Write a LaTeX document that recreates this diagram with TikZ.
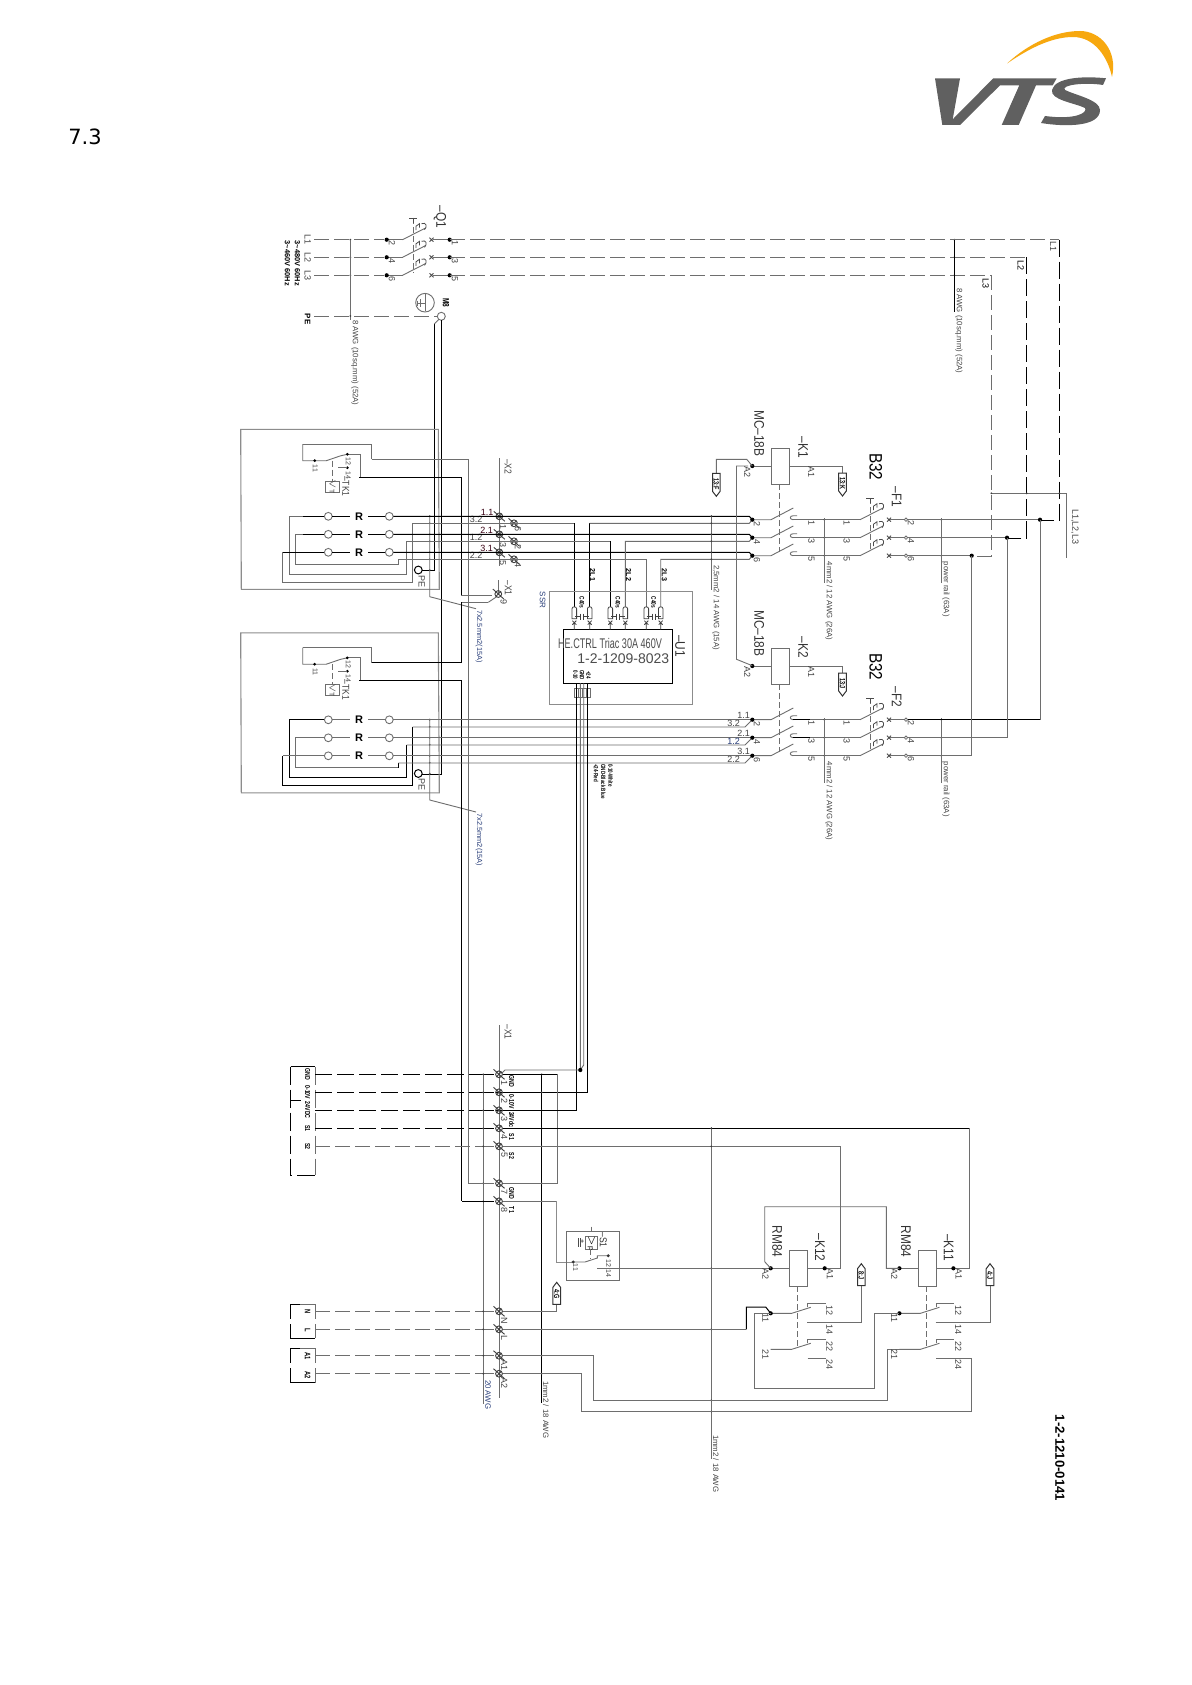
\documentclass[tikz,border=0pt]{standalone}
\usepackage{fontspec}
\usepackage{graphicx}
\setmainfont{Liberation Sans}
\newfontfamily\titlefont{DejaVu Sans}
\definecolor{wg}{HTML}{6E6E6E}
\definecolor{lg}{HTML}{8C8C8C}
\definecolor{tg}{HTML}{444444}
\definecolor{tb}{HTML}{2A3F7A}
\definecolor{logog}{HTML}{606060}
\definecolor{logoo}{HTML}{F7A80F}
\newcommand\fz[1]{\fontsize{#1}{#1}\selectfont}
\newcommand\iso[1]{\scalebox{.85}[1]{#1}}
\newcommand\nar[1]{\scalebox{.72}[1]{#1}}
\tikzset{
  wgl/.style={line width=.45pt,color=wg},
  wbl/.style={line width=.5pt,color=black},
  lgl/.style={line width=.55pt,color=lg},
  dashg/.style={wgl,dash pattern=on 7.5pt off 2.5pt},
  dashb/.style={wbl,dash pattern=on 8.5pt off 2.5pt},
  mech/.style={line width=.4pt,color=wg,dash pattern=on 3pt off 1.5pt},
  rtxt/.style={rotate=-90,inner sep=0,outer sep=0,font=\fz{4.5},text=tg},
  note/.style={rtxt,anchor=west,font=\fz{3.9}},
  bd/.style={rtxt,font=\fz{4}\bfseries,text=black},
  big/.style={rtxt,font=\fz{7},text=black!80},
  termp/.pic={\draw[line width=.45pt,color=black!75] (0,0) circle (3.4) (-5.5,-5)--(5.5,5) (-2.4,2.4)--(2.4,-2.4);},
  smalldot/.pic={\fill[color=black!75] (0,0) circle (1);},
  dotp/.pic={\fill[black] (0,0) circle (2.1);},
  brk/.pic={
    \draw[wgl] (0,0)--(23,-11.7);
    \draw[line width=.4pt,color=black!70] (13.5,-9.5)--(13.5,-13.5)--(17,-16)--(17,-12) (19,-16) .. controls (24,-18) and (25,-13) .. (22,-10);
    \draw[line width=.4pt,color=black!70] (27,-2)--(31,2) (27,2)--(31,-2);
  },
  brktop/.pic={\draw[line width=.4pt,color=black!70] (-4,0)--(4,0) (0,0)--(0,5);},
  kc/.pic={
    \draw[wgl] (0,0)--(18.7,0)--(41,-11.7);
    \draw[wgl] (44.7,-4)--(41,-4) .. controls (37,-4) and (37,0) .. (41,0);
  },
  relc/.pic={
    \draw[wgl] (0,0)--(21,0)--(40,-6);
    \draw[wgl] (37,-6)--(37,-9.5)--(55,-9.5);
    \draw[wgl] (37,9)--(55,9);
  },
  fuse/.pic={
    \draw[line width=.4pt,color=black!75] (-2.3,12)--(-2.3,2) .. controls (-2.3,-.5) and (2.3,-.5) .. (2.3,2)--(2.3,12)--cycle;
    \draw[line width=.4pt,color=black!75] (-2,14)--(2,18) (-2,18)--(2,14) (0,16)--(0,23);
  },
  capp/.pic={\draw[line width=.4pt,color=black!75] (-7,0)--(-1.2,0) (-1.2,-3)--(-1.2,3) (1.2,-3)--(1.2,3) (1.2,0)--(7,0);},
  tagd/.pic={\draw[line width=.5pt,color=black!80,fill=white] (-3.8,0)--(3.8,0)--(3.8,18)--(0,23)--(-3.8,18)--cycle; \node[bd,font=\fz{3.8}\bfseries] at (0,10.5) {\nar{#1}};},
  tagu/.pic={\draw[line width=.5pt,color=black!80,fill=white] (-3.8,0)--(3.8,0)--(3.8,-17)--(0,-22)--(-3.8,-17)--cycle; \node[bd,font=\fz{3.8}\bfseries] at (0,-10) {\nar{#1}};},
  heater/.pic={
    % outer box
    \draw[lgl] (-199.6,-87)--(-2,-87)--(-1,73)--(-199,73)--cycle;
    % thermal contact
    \draw[wgl] (-137.6,-72.3)--(-68.6,-72.3)--(-68.6,-57.3);
    \draw[wgl] (-137.6,-72.3)--(-137.6,-55.6)--(-125.6,-55.6)--(-114,-55.6)--(-100,-60.4)--(-93,-62);
    \draw[wgl] (-93,-62)--(-80,-62)--(-80,-39);
    \fill[black] (-125.6,-55.6) circle (1.5) (-93,-62) circle (1.5) (-93,-48.6) circle (1.5);
    \draw[wgl] (-93,-48.6)--(-102,-48.6);
    \draw[mech] (-108,-55.6)--(-108,-35.3);
    \draw[wgl] (-115,-35.3) rectangle (-101,-24);
    \node[rtxt,font=\fz{3.4}] at (-108,-29.7) {$\vee$T};
    \node[rtxt,font=\fz{3.5}] at (-125,-48) {11};
    \node[rtxt,font=\fz{3.5}] at (-92,-55) {12};
    \node[rtxt,font=\fz{3.5}] at (-92,-41) {14};
    \node[rtxt,font=\fz{5}] at (-94.5,-30) {\iso{--TK1}};
    % pe
    \draw[black,line width=.5pt] (-22,53.7) circle (3.9);
    \node[rtxt,font=\fz{4.5}] at (-18.5,65) {PE};
    % R row
    \foreach \yy in {0,18,36}{
      \draw[wgl] (-112,\yy) circle (3.9) (-51,\yy) circle (3.9);
      \node[bd,font=\fz{5.5}\bfseries] at (-81.3,\yy) {\rotatebox{90}{R}};
      \draw[wgl] (-108,\yy)--(-90,\yy) (-72,\yy)--(-55,\yy);
    }
    % bus ticks
    \foreach \yy in {0,7,18,25,36,43,53.7}{\fill[black!80] (-10.6,\yy) circle (.9);}
  },
}
\begin{document}
\begin{tikzpicture}[x=0.5pt,y=-0.5pt]
\useasboundingbox (0,0) rectangle (1192,1685);
\fill[white] (0,0) rectangle (1192,1685);
% title
\node[inner sep=0,font=\titlefont\fz{10.5},text=black] (title) at (85,137) {7.3};
% logo
\fill[logoo] (1007,63.5) .. controls (1028,44) and (1055,31) .. (1080,31) .. controls (1100,31) and (1118,50) .. (1112,77) .. controls (1108,58) and (1095,37) .. (1073,37) .. controls (1050,37) and (1027,50) .. (1007,63.5) -- cycle;
\fill[logog] (935,78.3)--(960,78.3)--(952.7,119.3)--(993.3,78.3)--(1056.7,78.3)--(1052.7,85.3)--(1036,85.3)--(1018.7,125)--(1001.7,125)--(1019.3,85.3)--(1000,85.3)--(960,125)--(942.3,125)--cycle;
\fill[logog] (1106,78.3) .. controls (1085,76) and (1055,77) .. (1052,90) .. controls (1050,100) and (1075,103) .. (1085,108) .. controls (1088,113) and (1075,120) .. (1045,116)
   -- (1041,123) .. controls (1065,127) and (1100,127) .. (1100,110) .. controls (1100,100) and (1075,95) .. (1065,90) .. controls (1060,85) and (1085,82) .. (1103,85) -- cycle;
% ---- Q1
\foreach \yy/\lb/\la in {239.7/2/1,257.3/4/3,275.3/6/5}{
  \draw[dashg] (314,\yy)--(384,\yy);
  \draw[wgl] (386.7,\yy)--(402.5,\yy);
  \pic at (402.5,\yy) {brk};
  \draw[dashg] (433,\yy)--(450,\yy);
  \pic at (386.7,\yy) {dotp};
  \pic at (449.7,\yy) {dotp};
  \node[rtxt] at (392,\yy+3.5) {\lb};
  \node[rtxt] at (455,\yy+3.5) {\la};
  \pic at (350.3,\yy) {smalldot};
  \pic at (954.3,\yy) {smalldot};
}
\draw[mech] (413,218)--(413,273);
\pic at (413,218) {brktop};
\node[big] at (440,217) {\iso{--Q1}};
\node[rtxt] at (307.7,240) {L1};
\node[rtxt] at (307.7,257.3) {L2};
\node[rtxt] at (307.7,276) {L3};
\node[bd] at (307.7,319) {PE};
\node[bd,font=\fz{3.7}\bfseries] at (297.3,263.3) {3\textasciitilde 480V 60Hz};
\node[bd,font=\fz{3.7}\bfseries] at (287.3,263.3) {3\textasciitilde 460V 60Hz};
\draw[wgl] (350.3,239.7)--(350.3,320);
\node[note] at (355,320) {8 AWG (10sq.mm) (52A)};
\draw[dashg] (314,316)--(437,316);
\pic at (350.3,316) {smalldot};
% earth
\draw[wgl] (425,302.7) circle (9.3);
\draw[wgl] (425,294)--(425,303) (425,303)--(425,311) (425,303)--(417.5,303);
\draw[wgl] (420,299)--(420,307) (417.5,300.5)--(417.5,305.5);
\node[bd,font=\fz{4.5}\bfseries] at (446,302.7) {\nar{M8}};
\draw[wgl] (441.3,316.3) circle (4);
% Long main dashes
\draw[dashg] (450,239.7)--(1059.3,239.7);
\draw[dashg] (450,257.3)--(1026.7,257.3);
\draw[dashg] (450,275.3)--(991.3,275.3);
\draw[dashb] (1059.3,239.7)--(1059.3,520)--(1040,520);
\draw[dashb] (1026.7,257.3)--(1026.7,538)--(1007,538);
\draw[dashg] (991.3,275.3)--(991.3,556)--(971.7,556);
\node[rtxt] at (1053.3,246.7) {L1};
\node[rtxt,text=black] at (1020.7,265.7) {L2};
\node[rtxt,text=black] at (985.7,283.3) {L3};
\draw[wbl] (954.3,239.7)--(954.3,312);
\node[note] at (959,288) {8 AWG (10sq.mm) (52A)};
\draw[wgl] (991.3,493.3)--(1066.3,493.3)--(1066.3,558.3);
\foreach \xx in {991.3,1026.7,1059.3}{\pic at (\xx,493.3) {smalldot};}
\node[rtxt,font=\fz{4.5}] at (1075,526.7) {L1,L2,L3};
% ---- PE wires
\draw[wbl] (441.3,320)--(441.3,774)--(422,774);
\draw[wbl] (434.3,324)--(434.3,570)--(422,570);
\draw[wgl] (434.3,324)--(439,319.3);
% ---- heater blocks
\pic at (440.3,516.3) {heater};
\pic at (440.3,719.8) {heater};
% Block 1 connection loops
\draw[wgl] (303,516.3)--(289.3,516.3)--(289.3,574.3)--(406.7,574.3)--(406.7,541.3);
\draw[wgl] (303,534.3)--(295,534.3)--(295,564.3)--(398.3,564.3)--(398.3,559.3);
\draw[wbl] (324,552.3)--(282.7,552.3);
\draw[wgl] (282.7,552.3)--(282.7,582.3)--(412.7,582.3)--(412.7,523.3);
\draw[wbl] (303,516.3)--(324,516.3) (303,534.3)--(324,534.3) (332,516.3)--(350,516.3) (332,534.3)--(350,534.3) (332,552.3)--(350,552.3) (368,516.3)--(385,516.3) (368,534.3)--(385,534.3) (368,552.3)--(385,552.3);
% Block 2 connection loops
\draw[wbl] (324,719.8)--(289.3,719.8)--(289.3,777.8)--(406.7,777.8)--(406.7,745);
\draw[wgl] (324,737.8)--(295,737.8)--(295,767.8)--(398.3,767.8);
\draw[wbl] (398.3,767.8)--(398.3,763);
\draw[wgl] (324,755.8)--(282.7,755.8);
\draw[wbl] (282.7,755.8)--(282.7,785.8)--(412.7,785.8)--(412.7,727);
% Cable bus
\draw[wgl] (429.7,515)--(429.7,596.7)--(476,608.7);
\draw[wgl] (429.7,718.5)--(429.7,800)--(476,812);
\node[note,font=\fz{3.7},text=tb] at (479,610) {7x2.5mm2(15A)};
\node[note,font=\fz{3.7},text=tb] at (479,813.5) {7x2.5mm2(15A)};
% TK wires
\draw[wgl] (371.7,459)--(468.3,459);
\draw[wgl] (468.3,459)--(468.3,1183.3);
\draw[wbl] (359.3,477.3)--(461.3,477.3)--(461.3,595);
\draw[wgl] (461.3,595)--(492,595);
\draw[wgl] (488.3,602.3)--(461.3,602.3);
\draw[wgl] (488.3,602.3)--(496.7,596.7);
\draw[wbl] (461.3,602.3)--(461.3,662.5)--(371.7,662.5);
\draw[wbl] (359.3,680.5)--(461.3,680.5)--(461.3,1201.3);
% X1 top
\draw[wgl] (498.3,580)--(498.3,594);
\pic at (498.3,594) {termp};
\node[rtxt,font=\fz{5}] at (508.3,588) {\iso{--X1}};
\node[rtxt] at (503.8,601.7) {9};
% ---- X2
\draw[wgl] (499.3,458.3)--(499.3,566);
\node[rtxt,font=\fz{5}] at (508,466.7) {\iso{--X2}};
\foreach \yy/\lb/\lc in {516.3/1/6,534.3/3/2,552.3/5/4}{
  \pic at (499.3,\yy) {termp};
  \pic at (514,\yy+7) {termp};
  \node[rtxt] at (503,\yy+11) {\lb};
  \node[rtxt] at (518,\yy+13) {\lc};
}
\node[font=\fz{4.5},inner sep=0,text=black!70!purple] at (487,512.3) {1.1};
\node[font=\fz{4.5},inner sep=0,text=tg] at (476,519.5) {3.2};
\node[font=\fz{4.5},inner sep=0,text=black!70!purple] at (486.7,530.3) {2.1};
\node[font=\fz{4.5},inner sep=0,text=tg] at (476,537.3) {1.2};
\node[font=\fz{4.5},inner sep=0,text=black!70!purple] at (486.7,548.3) {3.1};
\node[font=\fz{4.5},inner sep=0,text=tg] at (476,555.5) {2.2};
% ---- row wires block 1
\draw[wbl] (393.3,516.3)--(749.3,516.3)--(752.3,519.7);
\draw[wbl] (393.3,534.3)--(749.3,534.3)--(752.3,537.7);
\draw[wbl] (393.3,552.3)--(749.3,552.3)--(752.3,555.7);
\draw[wgl] (412.7,523.3)--(574.3,523.3);
\draw[wbl] (574.3,523.3)--(574.3,606.7);
\draw[wbl] (589.7,606.7)--(589.7,523.3);
\draw[wgl] (589.7,523.3)--(749.3,523.3)--(752.3,519.7);
\draw[wgl] (406.7,541.3)--(610.3,541.3);
\draw[wbl] (610.3,541.3)--(610.3,606.7);
\draw[wgl] (625.3,606.7)--(625.3,541.3)--(749.3,541.3)--(752.3,537.7);
\draw[wgl] (398.3,559.3)--(646.3,559.3)--(646.3,606.7);
\draw[wgl] (660.7,606.7)--(660.7,559.3)--(749.3,559.3)--(752.3,555.7);
\foreach \xx/\lb in {592.7/2L1,628.7/2L2,664.3/2L3}{\node[bd,font=\fz{3.6}\bfseries] at (\xx,575) {\lb};}
% ---- row wires block 2
\draw[wgl] (393.3,719.8)--(771,719.8);
\draw[wgl] (412.7,727)--(745,727)--(752.3,719.8);
\draw[wgl] (393.3,737.8)--(771,737.8);
\draw[wgl] (406.7,745)--(745,745)--(752.3,737.8);
\draw[wgl] (393.3,755.8)--(771,755.8);
\draw[wgl] (398.3,763)--(745,763)--(752.3,755.8);
\foreach \yy/\la/\lb/\cc in {715/1.1/3.2/tg,733/2.1/1.2/tb,751/3.1/2.2/tg}{
  \node[font=\fz{4.5},inner sep=0,text=tg] at (743.5,\yy) {\la};
  \node[font=\fz{4.5},inner sep=0,text=\cc] at (733.5,\yy+8) {\lb};
}
% ---- SSR
\draw[lgl] (549.3,591.7) rectangle (692.7,704.3);
\node[rtxt,text=tb,font=\fz{4}] at (542.5,600) {SSR};
\draw[wbl,line width=.6pt] (563.3,629.3) rectangle (672.3,683.3);
\node[inner sep=0,font=\fz{7},text=black!70] at (610,643.3) {\scalebox{.65}[1]{HE.CTRL Triac 30A 460V}};
\node[inner sep=0,font=\fz{7},text=black!70] at (623.3,659) {1-2-1209-8023};
\node[big] at (680,646) {\iso{--U1}};
\foreach \xx in {574.3,589.7,610.3,625.3,646.3,660.7}{\pic at (\xx,606.7) {fuse};}
\foreach \xx in {582,618,653.7}{
  \pic at (\xx,616.5) {capp};
  \node[bd,font=\fz{3.3}\bfseries] at (\xx,602.3) {\nar{C40s}};
}
\foreach \xx/\lb in {575.5/0-10,582/GND,588.5/+24}{\node[bd,font=\fz{3.1}\bfseries] at (\xx,675) {\nar{\lb}};}
\draw[line width=.4pt,color=wg] (574,688)--(574,697)--(590,697)--(590,688)--cycle;
\foreach \xx in {578,582,586}{\draw[line width=.4pt,color=wg] (\xx,688)--(\xx,697);}
\draw[wbl] (576.3,683.3)--(576.3,1110.3)--(496,1110.3);
\draw[wbl] (587.3,683.3)--(587.3,1092.3)--(496,1092.3);
\draw[wgl] (580.3,683.3)--(580.3,1070)--(505,1070)--(501.7,1073.3);
\draw[wgl] (583.7,683.3)--(583.7,1065)--(580.3,1070);
\pic at (580.3,1070) {dotp};
\foreach \xx/\lb in {610.7/0-10-White,603.3/GND-Black Blue,596/+24-Red}{\node[note,font=\fz{3.1}\bfseries,text=black] at (\xx,764.3) {\nar{\lb}};}
% ---- K1, K2, F1, F2 rows
\foreach \off/\kk/\ff/\tagt/\vf in {0/1/1/13:K/1,200/2/2/13:J/2}{
\begin{scope}[shift={(0,\off)}]
  \draw[wgl] (771.3,448.5) rectangle (789.3,484);
  \draw[wgl] (752.3,466)--(771.3,466);
  \draw[wgl] (789.3,466)--(842.5,466)--(842.5,473);
  \pic at (842.5,473) {tagd={\tagt}};
  \pic at (752.3,466) {dotp};
  \node[big] at (759.3,433.3) {\iso{MC--18B}};
  \node[big] at (803.3,447.5) {\iso{--K\kk}};
  \node[rtxt] at (747.3,472) {A2};
  \node[rtxt] at (811.3,472) {A1};
  \node[rtxt,font=\fz{9},text=black] at (875.7,466.7) {\iso{B32}};
  \node[big] at (896.7,496.7) {\iso{--F\ff}};
  \draw[mech] (779.3,484)--(779.3,551.7);
  \draw[mech] (870,498)--(870,550);
  \pic at (870,498) {brktop};
  \foreach \yy/\la/\lb in {519.7/1/2,537.7/3/4,555.7/5/6}{
    \pic at (752.3,\yy) {kc};
    \pic at (752.3,\yy) {dotp};
    \draw[wgl] (793,\yy)--(860,\yy);
    \pic at (860,\yy) {brk};
    \draw[wgl] (890,\yy)--(904.3,\yy);
    \draw[line width=.4pt,color=wg] (906,\yy) circle (1.7);
    \node[rtxt] at (757,\yy+4) {\lb};
    \node[rtxt] at (811.5,\yy+3) {\la};
    \node[rtxt] at (846.7,\yy+3) {\la};
    \node[rtxt] at (911,\yy+3) {\lb};
    \pic at (824.3,\yy) {smalldot};
    \pic at (941.3,\yy) {smalldot};
  }
  \draw[wgl] (824.3,518)--(824.3,583.3);
  \draw[wgl] (941.3,518)--(941.3,583.3);
  \node[note] at (829,561.7) {4mm2 / 12 AWG (26A)};
  \node[note] at (946,561.7) {power rail (63A)};
\end{scope}
}
% K1 specific
\draw[wgl] (752.3,466)--(746.7,459.3)--(716.3,459.3)--(716.3,473.3);
\pic at (716.3,473.3) {tagd={13:F}};
\draw[wgl] (748,466)--(736.5,466)--(736.5,659.3)--(752.3,665.7);
% right feeds
\draw[wgl] (907.7,519.7)--(1040,519.7);
\draw[wgl] (907.7,537.7)--(1007,537.7);
\draw[wgl] (907.7,555.7)--(971.7,555.7);
\pic at (1040,519.7) {dotp};
\pic at (1007,537.7) {dotp};
\pic at (971.7,555.7) {dotp};
\draw[wgl] (1040,519.7)--(1040,719.7);
\draw[wbl] (1040,719.7)--(907.7,719.7);
\draw[wgl] (1007,537.7)--(1007,737.7)--(907.7,737.7);
\draw[wgl] (971.7,555.7)--(971.7,755.7)--(907.7,755.7);
\draw[wbl] (793,719.7)--(810,719.7) (793,737.7)--(810,737.7);
% 2.5mm bus
\draw[wgl] (711.3,515)--(711.3,590);
\foreach \yy in {516.3,523.3,534.3,541.3,552.3,559.3}{\pic at (711.3,\yy) {smalldot};}
\node[note] at (716,565) {2,5mm2 / 14 AWG (15A)};
% ---- X1 terminal strip
\draw[wgl] (499,1025)--(499,1398);
\draw[wgl] (483.3,1074.3)--(483.3,1404);
\draw[wbl] (541.7,1074.3)--(541.7,1402.7);
\draw[wgl] (711.3,1127)--(711.3,1459);
\node[rtxt,font=\fz{5}] at (508,1032) {\iso{--X1}};
\node[note,text=tb] at (488,1380) {20 AWG};
\node[note] at (546,1381) {1mm2 / 18 AWG};
\node[note] at (716,1435) {1mm2 / 18 AWG};
% bottom-left brackets
\draw[wbl] (290.7,1066.7)--(315.3,1066.7);
\draw[wbl,dash pattern=on 9pt off 2.5pt] (290.7,1066.7)--(290.7,1175)--(315.3,1175);
\draw[wgl,dash pattern=on 9pt off 2.5pt] (315.3,1066.7)--(315.3,1175);
\draw[wbl] (290.7,1100)--(300.7,1100);
\foreach \ya/\yb/\yc/\yd in {1304.7/1318.7/1324/1338.3,1348.3/1362.7/1368.3/1382.7}{
  \draw[wbl] (300,\ya)--(290.7,\ya)--(290.7,\yb) (290.7,\yc)--(290.7,\yd)--(315.3,\yd);
  \draw[wgl] (300,\ya)--(315.3,\ya)--(315.3,\yb) (315.3,\yc)--(315.3,\yd);
}
\foreach \yy/\lb in {1074.3/GND,1092.3/0-10V,1110.3/24VDC,1128.3/S1,1146.3/S2}{
  \node[bd,font=\fz{3.6}\bfseries] at (307.7,\yy) {\nar{\lb}};
}
\foreach \yy/\lb in {1312/N,1330/L,1355.7/A1,1375/A2}{\node[bd] at (307.7,\yy) {\nar{\lb}};}
\foreach \yy in {1074.3,1092.3,1110.3,1128.3}{
  \draw[dashb] (315.3,\yy)--(483.3,\yy);
  \draw[wbl] (483.3,\yy)--(494,\yy);
}
\draw[dashg] (315.3,1146.3)--(483.3,1146.3);
\draw[wgl] (483.3,1146.3)--(494,1146.3);
\foreach \yy in {1311.3,1329.3,1355.7,1373.7}{
  \draw[dashg] (315.3,\yy)--(483.3,\yy);
  \draw[wgl] (483.3,\yy)--(494,\yy);
}
\foreach \yy/\lb in {1074.3/1,1092.3/2,1110.3/3,1128.3/4,1146.3/5,1183.3/7,1201.3/8,1311.3/N,1329.3/L,1355.7/A1,1373.7/A2}{
  \pic at (499,\yy) {termp};
  \node[rtxt] at (504.3,\yy+9) {\lb};
  \pic at (483.3,\yy) {smalldot};
  \pic at (541.7,\yy) {smalldot};
}
\foreach \yy/\lb in {1081.7/GND,1101.7/0-10V,1119.7/24Vdc,1136.7/S1,1155.7/S2,1193.3/GND,1210/T1}{
  \node[bd,font=\fz{3.6}\bfseries] at (511.7,\yy) {\nar{\lb}};
}
% strip wires
\draw[wbl] (503,1074.3)--(557.7,1074.3);
\draw[wgl] (557.7,1074.3)--(557.7,1183.3)--(503,1183.3);
\draw[wgl] (494,1183.3)--(468.3,1183.3);
\draw[wbl] (494,1201.3)--(461.7,1201.3);
\draw[wgl] (503,1201.3)--(556.7,1201.3);
\draw[lgl] (556.7,1201.3)--(556.7,1262.3)--(571.7,1262.3);
\draw[wbl] (503,1128.3)--(969.3,1128.3);
\draw[wgl] (969.3,1128.3)--(969.3,1268.3)--(954,1268.3);
\draw[wgl] (503,1146.3)--(840.3,1146.3)--(840.3,1268.3)--(824.7,1268.3);
\draw[wbl] (503,1110.3)--(576.3,1110.3);
\foreach \yy in {1128.3,1146.3,1268.3,1329.3,1400.3,1411.5}{\pic at (711.3,\yy) {smalldot};}
% S1 box
\draw[wgl] (566.3,1231.3) rectangle (619.7,1280.3);
\draw[wgl] (591.7,1226.7)--(591.7,1231.3);
\draw[wgl] (585.3,1236) rectangle (597.7,1249.3);
\node[rtxt,font=\fz{3.5},text=black] at (591.5,1242.7) {$>$p};
\node[rtxt,font=\fz{3.5},text=black] at (582,1242) {+};
\draw[line width=.4pt,color=black!70] (578,1238)--(578,1247) (580,1238)--(580,1247);
\node[big,font=\fz{5}] at (603.3,1240) {\iso{--S1}};
\draw[mech] (590.7,1249.3)--(590.7,1259);
\draw[wgl] (571.7,1262)--(585,1262)--(597.3,1258)--(597.3,1255.7)--(608.3,1255.7);
\fill[black!80] (573.3,1262) circle (1.6) (608.3,1255.7) circle (1.6);
\node[rtxt,font=\fz{3.5}] at (575.5,1267.5) {11};
\node[rtxt,font=\fz{3.5}] at (608.5,1263) {12};
\node[rtxt,font=\fz{3.5}] at (608.5,1273.5) {14};
\draw[wgl] (597.3,1268.3)--(770.7,1268.3);
% N, L
\draw[wgl] (503,1311.3)--(556.7,1311.3)--(556.7,1304.3);
\pic at (556.7,1304.3) {tagu={4:G}};
\draw[wgl] (503,1329.3)--(746.3,1329.3);
\draw[wbl] (746.3,1329.3)--(746.3,1307)--(765.7,1307)--(770.7,1313.3);
\draw[wgl] (503,1355.7)--(593.3,1355.7)--(593.3,1400.3)--(887.7,1400.3)--(887.7,1349.3)--(920,1349.3);
\draw[wgl] (503,1373.7)--(581.3,1373.7)--(581.3,1411.5)--(971.7,1411.5)--(971.7,1358.7)--(950,1358.7);
% K12, K11 relays
\foreach \xo/\kk/\tg in {0/12/8:J,128.7/11/4:J}{
\begin{scope}[shift={(\xo,0)}]
  \draw[wgl] (789.3,1250.3) rectangle (807.3,1286.3);
  \draw[wgl] (770.7,1268.3)--(789.3,1268.3) (807.3,1268.3)--(824.7,1268.3);
  \pic at (770.7,1268.3) {dotp};
  \pic at (824.7,1268.3) {dotp};
  \node[rtxt] at (765.5,1274) {A2};
  \node[rtxt] at (830,1274) {A1};
  \node[big] at (777.3,1241.7) {\iso{RM84}};
  \node[big] at (820,1247.7) {\iso{--K\kk}};
  \draw[mech] (797.3,1286.3)--(797.3,1347);
  \pic at (770.7,1313.3) {relc};
  \pic at (770.7,1349.3) {relc};
  \pic at (770.7,1313.3) {dotp};
  \draw[wgl] (807,1322.3)--(861.3,1322.3)--(861.3,1285.7);
  \pic at (861.3,1285.7) {tagu={\tg}};
  \foreach \yy/\lb in {1310/12,1329/14,1346/22,1364/24}{\node[rtxt] at (829.5,\yy) {\lb};}
  \node[rtxt] at (765.5,1318) {11};
  \node[rtxt] at (765.5,1354) {21};
\end{scope}
}
\draw[wgl] (770.7,1268.3)--(764.7,1261.7)--(764.7,1206.7)--(886.3,1206.7)--(886.3,1268.3)--(899.4,1268.3);
\draw[wgl] (770.7,1313.3)--(754.3,1313.3)--(754.3,1388.3)--(874.3,1388.3)--(874.3,1313.3)--(899.4,1313.3);
% drawing number
\node[rtxt,font=\fz{6.6}\bfseries,text=black] at (1060,1458) {1-2-1210-0141};
\end{tikzpicture}
\end{document}
